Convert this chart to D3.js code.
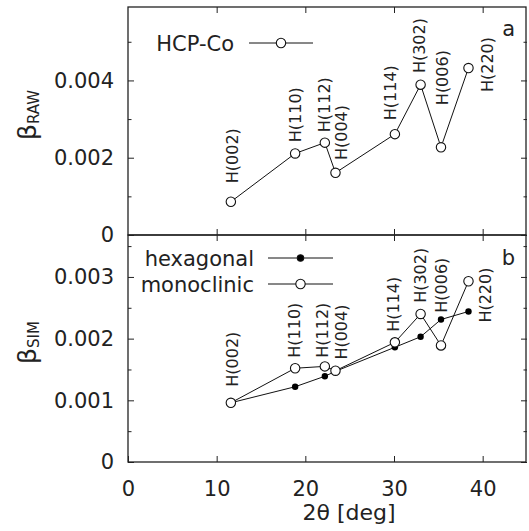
<!DOCTYPE html>
<html>
<head>
<meta charset="utf-8">
<script src="https://cdn.jsdelivr.net/npm/d3@7/dist/d3.min.js"></script>
<style>
  body { margin: 0; background: #fff; }
  svg { font-family: "DejaVu Sans", sans-serif; }
  .axis path, .axis line { stroke: #222; }
  .axis text { fill: #222; font-size: 21px; font-family: "DejaVu Sans", sans-serif; }
</style>
</head>
<body>
<svg id="chart" width="529" height="531"></svg>
<script>
// reflections and diffraction angles (deg)
const reflections = ["H(002)", "H(110)", "H(112)", "H(004)", "H(114)", "H(302)", "H(006)", "H(220)"];
const twoTheta = [11.6, 18.85, 22.2, 23.4, 30.1, 33.0, 35.3, 38.4];

// panel a: measured broadening
const betaRaw = [0.00086, 0.00211, 0.00239, 0.00161, 0.00261, 0.00389, 0.00227, 0.00432];
// panel b: simulated broadening
const betaHex = [0.00096, 0.00122, 0.00139, 0.00147, 0.00186, 0.00203, 0.00231, 0.00244];
const betaMono = [0.00096, 0.00152, 0.00155, 0.00148, 0.00194, 0.00240, 0.00189, 0.00293];

// where each reflection label starts (data units)
const labelXRaw = [11.7, 18.9, 22.1, 24.1, 29.6, 32.8, 35.4, 40.5];
const labelYRaw = [0.00134, 0.00240, 0.00266, 0.00194, 0.00297, 0.00419, 0.00336, 0.00370];
const labelXSim = [11.7, 18.8, 21.95, 24.05, 29.9, 32.95, 35.3, 40.3];
const labelYSim = [0.00122, 0.00169, 0.00169, 0.00166, 0.00211, 0.00258, 0.00242, 0.00226];

const xTicks = [0, 10, 20, 30, 40];
const yTicksRaw = [0, 0.002, 0.004];
const yMinorRaw = [0.001, 0.003, 0.005];
const yTicksSim = [0, 0.001, 0.002, 0.003];
const yMinorSim = [0.0005, 0.0015, 0.0025, 0.0035];

const svg = d3.select("#chart");
const left = 128, right = 527;
const x = d3.scaleLinear().domain([0, 45]).range([left, right]);

const panels = [
    {top: 7, bottom: 235, y: d3.scaleLinear().domain([0, 0.0059]).range([235, 7]),
     major: yTicksRaw, minor: yMinorRaw, letter: "a", letterY: 36, sub: "RAW", xLabels: false},
    {top: 235, bottom: 462, y: d3.scaleLinear().domain([0, 0.00368]).range([462, 235]),
     major: yTicksSim, minor: yMinorSim, letter: "b", letterY: 265, sub: "SIM", xLabels: true}
];

const fmt = v => v === 0 ? "0" : d3.format(".3f")(v);

panels.forEach(p => {
    const g = svg.append("g");
    // left axis
    g.append("g").attr("class", "axis").attr("transform", `translate(${left},0)`)
        .call(d3.axisLeft(p.y).tickValues(p.major).tickFormat(fmt).tickSize(-6).tickPadding(14))
        .call(a => a.select(".domain").remove());
    g.append("g").attr("class", "axis").attr("transform", `translate(${left},0)`)
        .call(d3.axisLeft(p.y).tickValues(p.minor).tickFormat("").tickSize(-3.5))
        .call(a => a.select(".domain").remove());
    // right axis (ticks only)
    g.append("g").attr("class", "axis").attr("transform", `translate(${right},0)`)
        .call(d3.axisRight(p.y).tickValues(p.major).tickFormat("").tickSize(-6))
        .call(a => a.select(".domain").remove());
    g.append("g").attr("class", "axis").attr("transform", `translate(${right},0)`)
        .call(d3.axisRight(p.y).tickValues(p.minor).tickFormat("").tickSize(-3.5))
        .call(a => a.select(".domain").remove());
    // top / bottom
    g.append("g").attr("class", "axis").attr("transform", `translate(0,${p.top})`)
        .call(d3.axisTop(x).tickValues(xTicks.slice(1)).tickFormat("").tickSize(-6))
        .call(a => a.select(".domain").remove());
    g.append("g").attr("class", "axis").attr("transform", `translate(0,${p.bottom})`)
        .call(d3.axisBottom(x).tickValues(p.xLabels ? xTicks : xTicks.slice(1))
            .tickFormat(p.xLabels ? d3.format("d") : "").tickSize(-6).tickPadding(19))
        .call(a => a.select(".domain").remove());
    // frame
    g.append("rect").attr("x", left).attr("y", p.top)
        .attr("width", right - 1 - left).attr("height", p.bottom - p.top)
        .attr("fill", "none").attr("stroke", "#222").attr("stroke-width", 1.3);

    // y title
    const t = g.append("text")
        .attr("transform", `translate(36,${(p.top + p.bottom) / 2 - 6}) rotate(-90)`)
        .attr("text-anchor", "middle").attr("fill", "#222");
    t.append("tspan").attr("font-size", 25).text("β");
    t.append("tspan").attr("font-size", 15).attr("dy", 3).text(p.sub);

    g.append("text").attr("x", 515).attr("y", p.letterY).attr("text-anchor", "end")
        .attr("font-size", 21).attr("fill", "#222").text(p.letter);
});

const yA = panels[0].y, yB = panels[1].y;
const line = yS => d3.line().x((d, i) => x(twoTheta[i])).y(d => yS(d));

// panel a data
svg.append("path").datum(betaRaw).attr("d", line(yA))
    .attr("fill", "none").attr("stroke", "#111").attr("stroke-width", 1);
svg.append("g").selectAll("circle").data(betaRaw).join("circle")
    .attr("cx", (d, i) => x(twoTheta[i])).attr("cy", d => yA(d)).attr("r", 4.7)
    .attr("fill", "#fff").attr("stroke", "#111").attr("stroke-width", 1.1);

// panel b data
svg.append("path").datum(betaHex).attr("d", line(yB))
    .attr("fill", "none").attr("stroke", "#111").attr("stroke-width", 1);
svg.append("g").selectAll("circle").data(betaHex).join("circle")
    .attr("cx", (d, i) => x(twoTheta[i])).attr("cy", d => yB(d)).attr("r", 3.2)
    .attr("fill", "#000");
svg.append("path").datum(betaMono).attr("d", line(yB))
    .attr("fill", "none").attr("stroke", "#111").attr("stroke-width", 1);
svg.append("g").selectAll("circle").data(betaMono).join("circle")
    .attr("cx", (d, i) => x(twoTheta[i])).attr("cy", d => yB(d)).attr("r", 4.7)
    .attr("fill", "#fff").attr("stroke", "#111").attr("stroke-width", 1.1);

// reflection labels
function labels(xs, ys, yS) {
    svg.append("g").selectAll("text").data(reflections).join("text")
        .attr("transform", (d, i) => `translate(${x(xs[i])},${yS(ys[i])}) rotate(-90)`)
        .attr("dy", "0.36em").attr("font-size", 16).attr("fill", "#222").text(d => d);
}
labels(labelXRaw, labelYRaw, yA);
labels(labelXSim, labelYSim, yB);

// legends
const legend = [
    {name: "HCP-Co", y: 43, filled: false},
    {name: "hexagonal", y: 258, filled: true},
    {name: "monoclinic", y: 284, filled: false}
];
legend.forEach((l, i) => {
    const lx = i === 0 ? 234 : 254, x0 = i === 0 ? 249 : 268, x1 = i === 0 ? 313 : 333;
    svg.append("text").attr("x", lx).attr("y", l.y).attr("dy", "0.36em")
        .attr("text-anchor", "end").attr("font-size", 21).attr("fill", "#222").text(l.name);
    svg.append("line").attr("x1", x0).attr("x2", x1).attr("y1", l.y).attr("y2", l.y)
        .attr("stroke", "#111").attr("stroke-width", 1);
    svg.append("circle").attr("cx", (x0 + x1) / 2).attr("cy", l.y)
        .attr("r", l.filled ? 3.2 : 4.7)
        .attr("fill", l.filled ? "#000" : "#fff").attr("stroke", "#111").attr("stroke-width", 1.1);
});

// x title
svg.append("text").attr("x", 349).attr("y", 520).attr("text-anchor", "middle")
    .attr("font-size", 22).attr("fill", "#222").text("2θ [deg]");
</script>
</body>
</html>
